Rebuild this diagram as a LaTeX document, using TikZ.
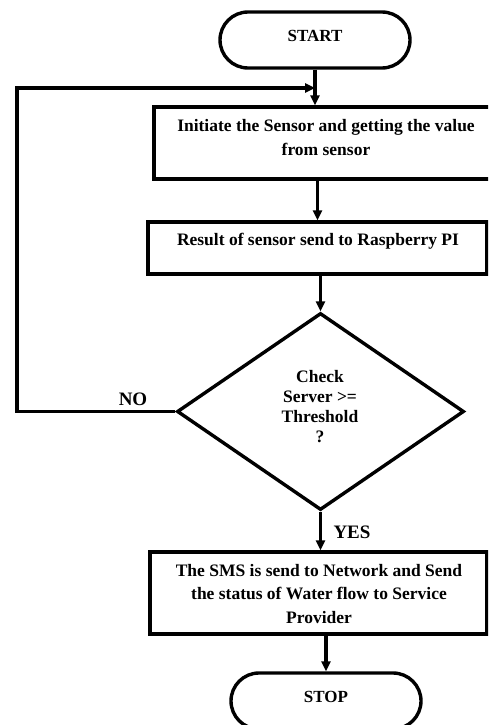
\documentclass[tikz,border=0pt]{standalone}
\usepackage{fontspec}
\setmainfont{Liberation Serif}
\usetikzlibrary{arrows.meta,shapes.geometric}
\begin{document}
\begin{tikzpicture}[x=1pt,y=-1pt,
  line width=3.4pt,
  term/.style={draw, rounded corners=28pt, minimum width=190pt, minimum height=56pt, inner sep=0pt},
  proc/.style={draw, inner sep=0pt},
  dec/.style={draw, diamond, inner sep=0pt, minimum width=287pt, minimum height=197pt},
  txt/.style={font=\fontsize{17.5}{23.5}\selectfont\bfseries, align=center, inner sep=0pt},
  dtxt/.style={font=\fontsize{17.5}{20}\selectfont\bfseries, align=center, inner sep=0pt},
  ttxt/.style={font=\fontsize{17}{20}\selectfont\bfseries, inner sep=0pt},
  yn/.style={font=\fontsize{19}{22}\selectfont\bfseries, inner sep=0pt},
  arr/.style={-{Triangle[length=10pt,width=9pt]}, line width=3.2pt},
]
\path[use as bounding box] (0,0) rectangle (488,725);
\clip (0,0) rectangle (488,725);

% shapes
\node[term] (start) at (315,40) {};
\node[ttxt] (tstart) at (315,36) {START};

\node[proc, minimum width=344pt, minimum height=72pt] (b1) at (326,143) {};
\node[txt] (tb1) at (326,137.5) {Initiate the Sensor and getting the value\\from sensor};

\node[proc, minimum width=339pt, minimum height=52pt] (b2) at (317.5,248) {};
\node[txt] (tb2) at (318,241) {Result of sensor send to Raspberry PI};

\node[dec] (d) at (320.5,411.5) {};
\node[dtxt] (td) at (320,407) {Check\\Server >=\\Threshold\\?};

\node[proc, minimum width=337pt, minimum height=82pt] (b3) at (318.5,593) {};
\node[txt] (tb3) at (319,594) {The SMS is send to Network and Send\\the status of Water flow to Service\\Provider};

\node[term] (stop) at (326,701) {};
\node[ttxt] (tstop) at (326,697) {STOP};

% labels
\node[yn] (no) at (133,399) {NO};
\node[yn] (yes) at (352,532) {YES};

% connectors
\coordinate (join) at (315,88);
\coordinate (corner) at (17,88);
\draw[arr] (start.south) -- (start.south |- b1.north);
\draw[arr] (b2.north |- b1.south) -- (b2.north);
\draw[arr] (d.north |- b2.south) -- (d.north);
\draw[arr] (d.south) -- (d.south |- b3.north);
\draw[arr] (stop.north |- b3.south) -- (stop.north);
\draw[arr] (d.west) -| (corner) -- (join);
\end{tikzpicture}
\end{document}
